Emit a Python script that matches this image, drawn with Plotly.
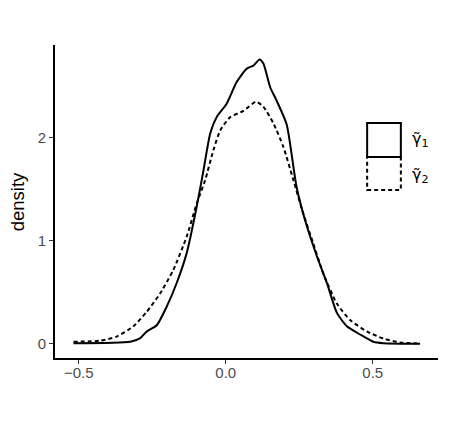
import plotly.graph_objects as go

# Density estimates
x_g1 = [-0.518, -0.325, -0.291, -0.269, -0.235, -0.201, -0.167, -0.133, -0.099, -0.076,
        -0.053, -0.031, 0.003, 0.037, 0.071, 0.094, 0.115, 0.128, 0.151, 0.173,
        0.207, 0.241, 0.276, 0.310, 0.344, 0.378, 0.412, 0.457, 0.502, 0.536, 0.661]
d_g1 = [0.006, 0.02, 0.055, 0.12, 0.18, 0.36, 0.59, 0.88, 1.33, 1.68,
        2.04, 2.20, 2.33, 2.54, 2.67, 2.70, 2.76, 2.72, 2.49, 2.36,
        2.13, 1.52, 1.14, 0.85, 0.59, 0.30, 0.17, 0.09, 0.02, 0.006, 0.0]

x_g2 = [-0.518, -0.427, -0.371, -0.314, -0.269, -0.223, -0.178, -0.133, -0.099, -0.070,
        -0.042, -0.019, 0.015, 0.060, 0.103, 0.128, 0.162, 0.196, 0.230, 0.264,
        0.298, 0.332, 0.378, 0.423, 0.480, 0.536, 0.593, 0.661]
d_g2 = [0.02, 0.03, 0.07, 0.17, 0.31, 0.49, 0.72, 1.04, 1.36, 1.59,
        1.88, 2.07, 2.20, 2.26, 2.35, 2.30, 2.14, 1.91, 1.59, 1.26,
        0.97, 0.68, 0.39, 0.23, 0.12, 0.05, 0.013, 0.003]

x_ticks = [-0.5, 0.0, 0.5]
x_tick_labels = ["\u22120.5", "0.0", "0.5"]
y_ticks = [0, 1, 2]
y_tick_labels = ["0", "1", "2"]
y_title = "density"
series_labels = ["\u03b3\u0303<sub>1</sub>", "\u03b3\u0303<sub>2</sub>"]

fig = go.Figure()
fig.add_trace(go.Scatter(x=x_g1, y=d_g1, mode="lines", line=dict(color="black", width=2, shape="spline", smoothing=0.6),
                         name=series_labels[0], showlegend=False))
fig.add_trace(go.Scatter(x=x_g2, y=d_g2, mode="lines", line=dict(color="black", width=2, dash="4px,3px", shape="spline", smoothing=0.6),
                         name=series_labels[1], showlegend=False))

# manual legend (ggplot-style keys)
fig.add_shape(type="rect", xref="paper", yref="paper", x0=0.815, x1=0.903, y0=0.642, y1=0.751,
              line=dict(color="black", width=2), fillcolor="white")
fig.add_shape(type="rect", xref="paper", yref="paper", x0=0.815, x1=0.903, y0=0.537, y1=0.642,
              line=dict(color="black", width=2, dash="4px,3px"), fillcolor="rgba(0,0,0,0)")
fig.add_annotation(xref="paper", yref="paper", x=0.928, y=0.698, text=series_labels[0], showarrow=False,
                   xanchor="left", yanchor="middle", font=dict(family="DejaVu Sans", size=16, color="black"))
fig.add_annotation(xref="paper", yref="paper", x=0.928, y=0.583, text=series_labels[1], showarrow=False,
                   xanchor="left", yanchor="middle", font=dict(family="DejaVu Sans", size=16, color="black"))

# y-axis title
fig.add_annotation(xref="paper", yref="paper", x=-0.097, y=0.5, text=y_title, showarrow=False,
                   textangle=-90, xanchor="center", yanchor="middle",
                   font=dict(size=18.5, color="black"))

# page body has an 8px margin: size and margins compensate so the panel sits where the reference has it
fig.update_layout(
    width=441, height=413,
    margin=dict(l=47, r=11, t=37, b=63, autoexpand=False),
    plot_bgcolor="white", paper_bgcolor="white",
    font=dict(family="Liberation Sans, Arial, sans-serif", color="#4D4D4D"),
    showlegend=False,
)
fig.update_xaxes(range=[-0.581, 0.722], tickvals=x_ticks, ticktext=x_tick_labels, automargin=False,
                 showline=True, linecolor="black", linewidth=2, showgrid=False, zeroline=False,
                 ticks="outside", ticklen=4, tickwidth=1, tickcolor="#333333", ticklabelstandoff=-4,
                 tickfont=dict(size=15, color="#4D4D4D"))
fig.update_yaxes(range=[-0.138, 2.9], tickvals=y_ticks, ticktext=y_tick_labels, automargin=False,
                 showline=True, linecolor="black", linewidth=2, showgrid=False, zeroline=False,
                 ticks="outside", ticklen=4, tickwidth=1, tickcolor="#333333",
                 tickfont=dict(size=15, color="#4D4D4D"))

fig.write_html("out.html")
